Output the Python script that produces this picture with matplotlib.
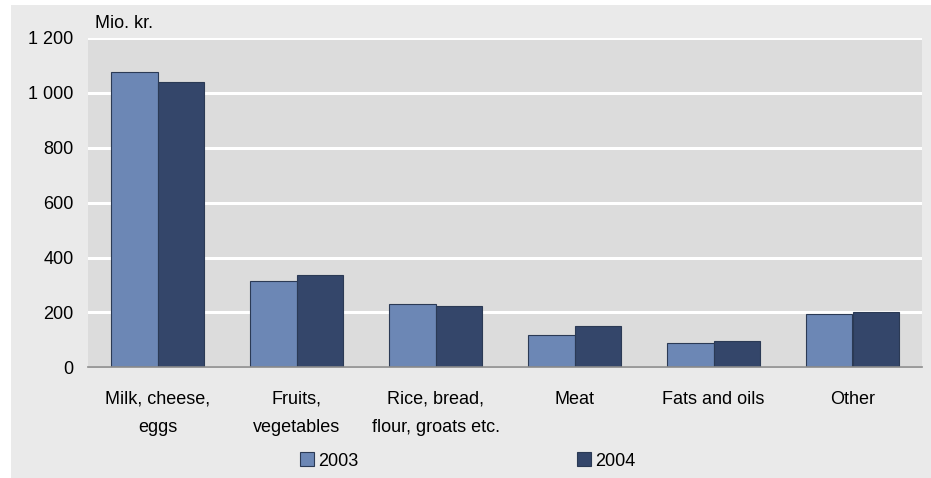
import matplotlib
matplotlib.use("Agg")
import matplotlib.pyplot as plt
from matplotlib.patches import Rectangle, Patch
import numpy as np

categories = ["Milk, cheese,\neggs", "Fruits,\nvegetables", "Rice, bread,\nflour, groats etc.",
              "Meat", "Fats and oils", "Other"]
values_2003 = [1076, 314, 232, 117, 90, 196]
values_2004 = [1039, 336, 222, 150, 95, 203]
series_labels = ["2003", "2004"]
yticks = [0, 200, 400, 600, 800, 1000, 1200]
ytick_labels = ["0", "200", "400", "600", "800", "1 000", "1 200"]

plt.rcParams['font.family'] = ['Liberation Sans', 'DejaVu Sans']
plt.rcParams['font.size'] = 13

W, H = 931, 478
fig = plt.figure(figsize=(W / 100, H / 100), dpi=100)
fig.patch.set_facecolor('white')
fig.patches.append(Rectangle((11 / W, 0), 1 - 11 / W, (H - 5) / H, transform=fig.transFigure,
                             facecolor='#EAEAEA', edgecolor='none', zorder=-10))

ax = fig.add_axes([88 / W, (H - 367.3) / H, (922 - 88) / W, (367.3 - 38) / H])
ax.set_zorder(5)
ax.set_facecolor('#DCDCDC')

c2003 = '#6C87B5'
c2004 = '#34466A'
edge = '#2B3A55'
x = np.arange(len(categories))
bw = 0.335
ax.bar(x - bw / 2, values_2003, bw, color=c2003, edgecolor=edge, linewidth=0.8, zorder=3)
ax.bar(x + bw / 2, values_2004, bw, color=c2004, edgecolor=edge, linewidth=0.8, zorder=3)

ax.set_xlim(-0.5, len(categories) - 0.5)
ax.set_ylim(0, 1200)
ax.set_yticks(yticks)
ax.set_yticklabels(ytick_labels)
ax.yaxis.grid(True, color='white', linewidth=2.2, zorder=1)
ax.set_axisbelow(True)
ax.set_xticks(x)
ax.set_xticklabels(categories, linespacing=1.85, va='top')
ax.tick_params(axis='both', length=0, labelcolor='black')
ax.tick_params(axis='y', pad=10.5)
ax.tick_params(axis='x', pad=17)
for s in ['top', 'right', 'left']:
    ax.spines[s].set_visible(False)
ax.spines['bottom'].set_color('#8A8A8A')
ax.spines['bottom'].set_linewidth(1.2)
ax.spines['bottom'].set_zorder(4)

fig.text(95 / W, 1 - 23 / H, "Mio. kr.", ha='left', va='center', fontsize=13, zorder=6)

handles = [Patch(facecolor=c2003, edgecolor=edge, linewidth=0.8),
           Patch(facecolor=c2004, edgecolor=edge, linewidth=0.8)]
leg = fig.legend(handles, series_labels, loc='center', bbox_to_anchor=(467.5 / W, 1 - 461 / H),
                 ncol=2, frameon=False, handlelength=0.8, handleheight=0.8, handletextpad=0.2,
                 columnspacing=12.1, borderpad=0, borderaxespad=0)
leg.set_zorder(6)

fig.savefig("out.png", dpi=100, facecolor=fig.get_facecolor())
